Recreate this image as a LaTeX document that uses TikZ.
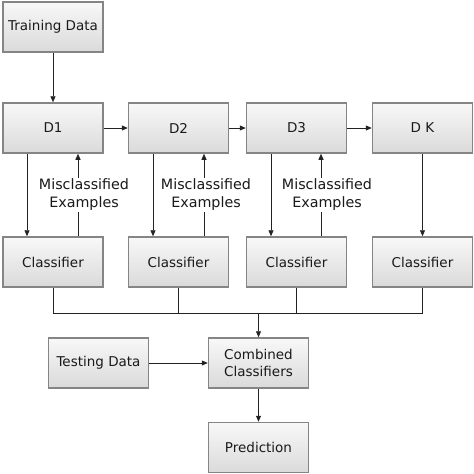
\documentclass[tikz,border=0pt]{standalone}
\usepackage{fontspec}
\setmainfont{DejaVu Sans}
\usetikzlibrary{arrows.meta}
\definecolor{boxborder}{HTML}{858585}
\definecolor{boxtop}{HTML}{F8F8F8}
\definecolor{boxbot}{HTML}{DADADA}
\definecolor{linecol}{HTML}{222222}
\definecolor{txt}{HTML}{1A1A1A}
\begin{document}
\begin{tikzpicture}[x=1pt,y=-1pt,
  box/.style={draw=boxborder, line width=1.5pt, top color=boxtop, bottom color=boxbot,
    minimum width=100pt, minimum height=50pt, inner sep=0pt, align=center,
    font=\fontsize{13.5}{17.5}\selectfont, text=txt},
  conn/.style={draw=linecol, line width=0.8pt},
  arr/.style={conn, -{Triangle[length=6pt,width=5pt]}},
  lbl/.style={fill=white, inner sep=1pt, align=center, font=\fontsize{14.3}{18}\selectfont, text=txt}]
\useasboundingbox (0,0) rectangle (474,474);
\node[box] (T) at (53,27) {Training Data};
\node[box] (D1) at (53,128) {D1};
\node[box] (D2) at (178.5,128) {D2};
\node[box] (D3) at (296.5,128) {D3};
\node[box] (DK) at (422.5,128) {D K};
\node[box] (C1) at (53,262) {Classifier};
\node[box] (C2) at (178.5,262) {Classifier};
\node[box] (C3) at (296.5,262) {Classifier};
\node[box] (C4) at (422.5,262) {Classifier};
\node[box] (Comb) at (258.5,363) {Combined\\Classifiers};
\node[box] (Test) at (98.5,363) {Testing Data};
\node[box] (Pred) at (258.5,447.5) {Prediction};

\draw[arr] (T) -- (D1);
\draw[arr] (D1) -- (D2);
\draw[arr] (D2) -- (D3);
\draw[arr] (D3) -- (DK);

% down arrows
\draw[arr] ([xshift=-26pt]D1.south) -- ([xshift=-26pt]C1.north);
\draw[arr] ([xshift=-25.5pt]D2.south) -- ([xshift=-25.5pt]C2.north);
\draw[arr] ([xshift=-25.5pt]D3.south) -- ([xshift=-25.5pt]C3.north);
\draw[arr] (DK) -- (C4);
% up arrows
\draw[arr] ([xshift=25pt]C1.north) -- ([xshift=25pt]D1.south);
\draw[arr] ([xshift=25.5pt]C2.north) -- ([xshift=25.5pt]D2.south);
\draw[arr] ([xshift=24.5pt]C3.north) -- ([xshift=24.5pt]D3.south);
\node[lbl] (L1) at (84,195) {Misclassified\\Examples};
\node[lbl] (L2) at (206,195) {Misclassified\\Examples};
\node[lbl] (L3) at (327,195) {Misclassified\\Examples};

% bus
\coordinate (bus) at (258.5,313);
\draw[conn] (C1.south) -- (C1.south |- bus) -- (C4.south |- bus) -- (C4.south);
\draw[conn] (C2.south) -- (C2.south |- bus);
\draw[conn] (C3.south) -- (C3.south |- bus);
\draw[arr] (bus) -- (Comb);
\draw[arr] (Test) -- (Comb);
\draw[arr] (Comb) -- (Pred);
\end{tikzpicture}
\end{document}
